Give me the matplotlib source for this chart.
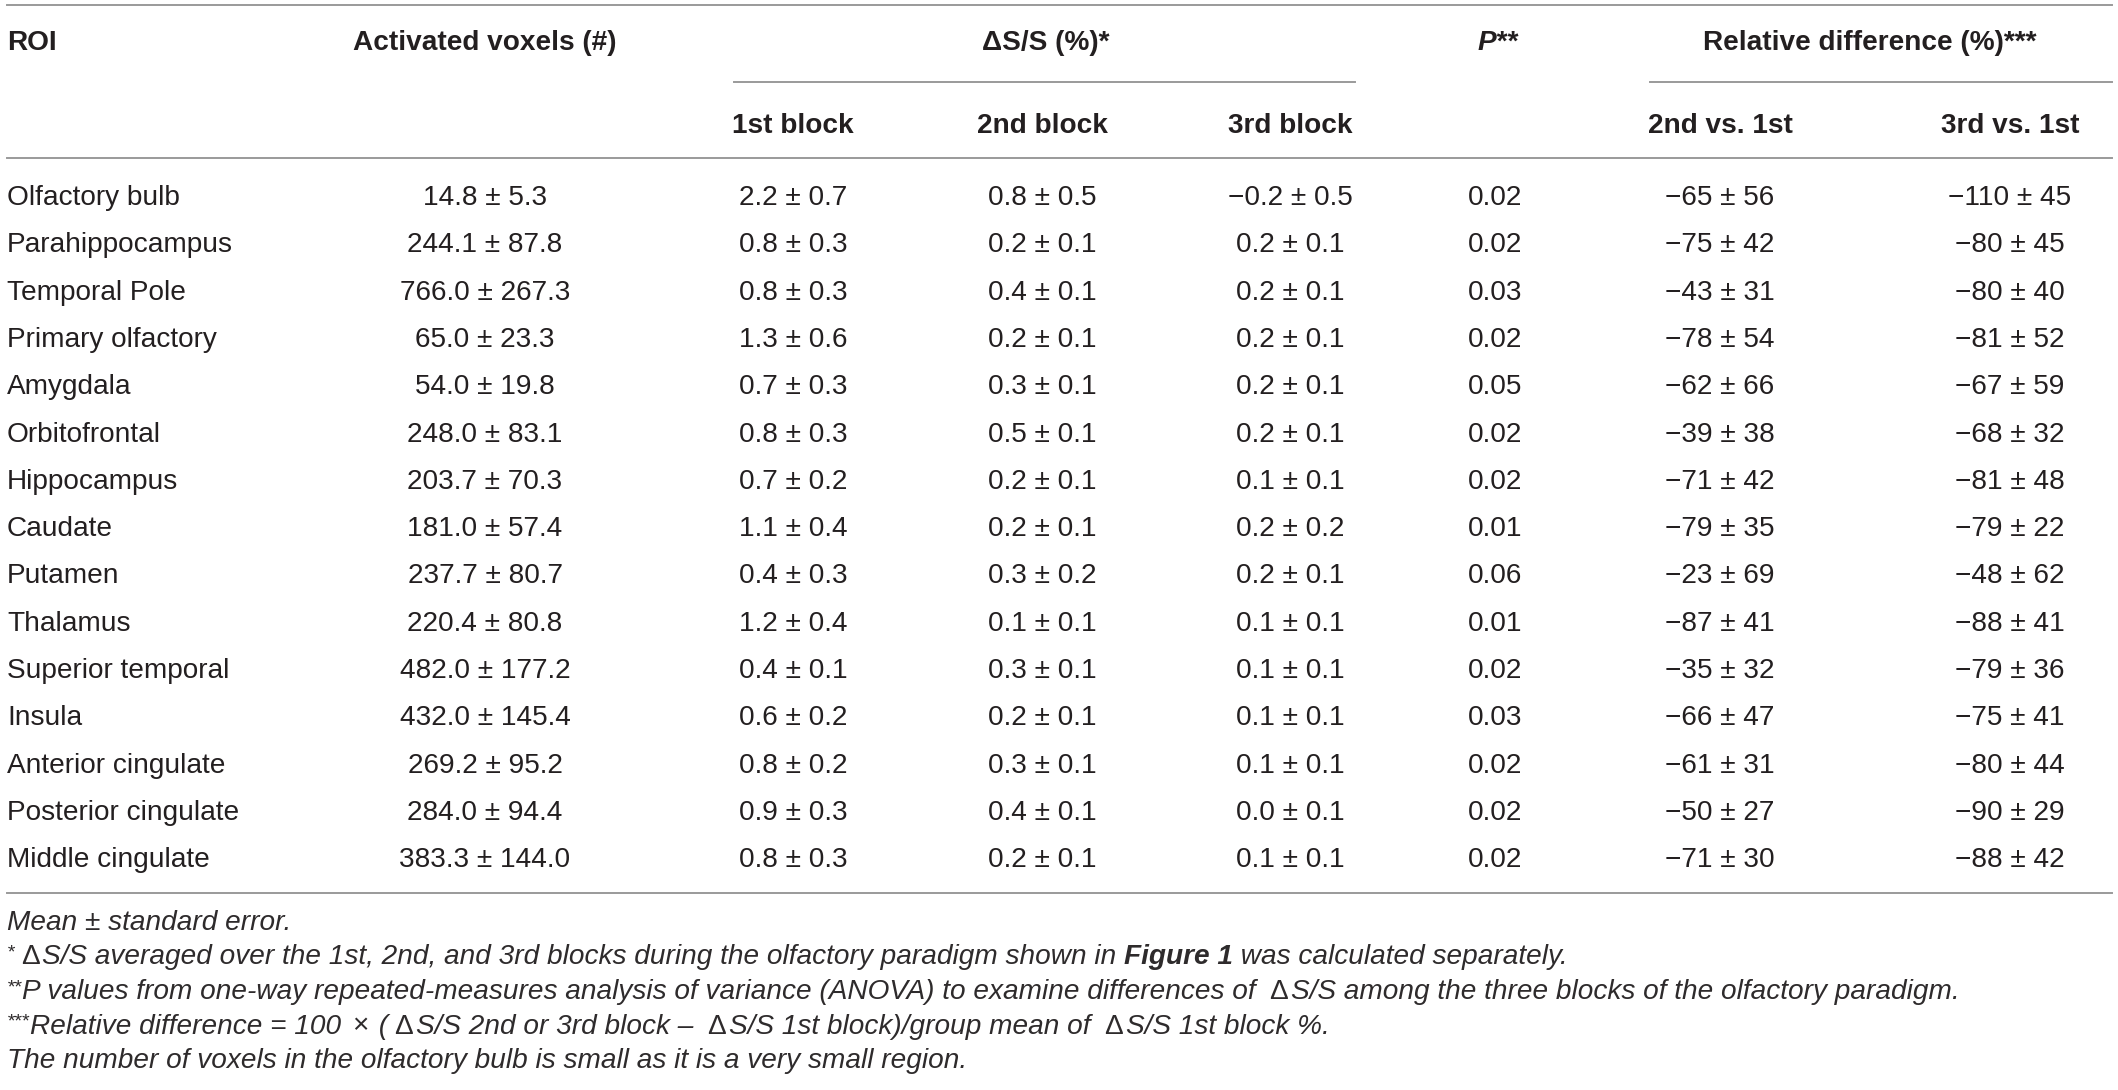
import matplotlib
matplotlib.use("Agg")
import matplotlib.pyplot as plt

plt.rcParams['font.family'] = ['Liberation Sans', 'DejaVu Sans']

# ---------------- data ----------------
rois = ["Olfactory bulb", "Parahippocampus", "Temporal Pole", "Primary olfactory",
        "Amygdala", "Orbitofrontal", "Hippocampus", "Caudate", "Putamen", "Thalamus",
        "Superior temporal", "Insula", "Anterior cingulate", "Posterior cingulate",
        "Middle cingulate"]
voxels_mean = [14.8, 244.1, 766.0, 65.0, 54.0, 248.0, 203.7, 181.0, 237.7, 220.4,
               482.0, 432.0, 269.2, 284.0, 383.3]
voxels_se = [5.3, 87.8, 267.3, 23.3, 19.8, 83.1, 70.3, 57.4, 80.7, 80.8,
             177.2, 145.4, 95.2, 94.4, 144.0]
block1_mean = [2.2, 0.8, 0.8, 1.3, 0.7, 0.8, 0.7, 1.1, 0.4, 1.2, 0.4, 0.6, 0.8, 0.9, 0.8]
block1_se = [0.7, 0.3, 0.3, 0.6, 0.3, 0.3, 0.2, 0.4, 0.3, 0.4, 0.1, 0.2, 0.2, 0.3, 0.3]
block2_mean = [0.8, 0.2, 0.4, 0.2, 0.3, 0.5, 0.2, 0.2, 0.3, 0.1, 0.3, 0.2, 0.3, 0.4, 0.2]
block2_se = [0.5, 0.1, 0.1, 0.1, 0.1, 0.1, 0.1, 0.1, 0.2, 0.1, 0.1, 0.1, 0.1, 0.1, 0.1]
block3_mean = [-0.2, 0.2, 0.2, 0.2, 0.2, 0.2, 0.1, 0.2, 0.2, 0.1, 0.1, 0.1, 0.1, 0.0, 0.1]
block3_se = [0.5, 0.1, 0.1, 0.1, 0.1, 0.1, 0.1, 0.2, 0.1, 0.1, 0.1, 0.1, 0.1, 0.1, 0.1]
p_values = [0.02, 0.02, 0.03, 0.02, 0.05, 0.02, 0.02, 0.01, 0.06, 0.01,
            0.02, 0.03, 0.02, 0.02, 0.02]
rel2_mean = [-65, -75, -43, -78, -62, -39, -71, -79, -23, -87, -35, -66, -61, -50, -71]
rel2_se = [56, 42, 31, 54, 66, 38, 42, 35, 69, 41, 32, 47, 31, 27, 30]
rel3_mean = [-110, -80, -80, -81, -67, -68, -81, -79, -48, -88, -79, -75, -80, -90, -88]
rel3_se = [45, 45, 40, 52, 59, 32, 48, 22, 62, 41, 36, 41, 44, 29, 42]

col_headers = ["1st block", "2nd block", "3rd block", "2nd vs. 1st", "3rd vs. 1st"]

# ---------------- layout ----------------
W, H = 2118, 1090
fig = plt.figure(figsize=(W / 100, H / 100), dpi=100)
ax = fig.add_axes([0, 0, 1, 1])
ax.set_xlim(0, W)
ax.set_ylim(H, 0)
ax.axis('off')

TXT = '#231f20'
FOOT = '#2e2b2c'
LINE = '#9a9a9a'
FS = 20.2
LW = 1.4

def minus(s):
    return s.replace('-', '\u2212')

def pm(m, s, fmt):
    return minus(fmt.format(m)) + ' \u00b1 ' + fmt.format(s)

# column centers
cx = [485, 793, 1042, 1290, 1495, 1720, 2010]
x_left = 7
x_right = 2112

# rules
ax.plot([x_left, x_right], [5, 5], color=LINE, lw=LW)
ax.plot([734, 1355], [82, 82], color=LINE, lw=LW)
ax.plot([1650, x_right], [82, 82], color=LINE, lw=LW)
ax.plot([x_left, x_right], [158, 158], color=LINE, lw=LW)
ax.plot([x_left, x_right], [893, 893], color=LINE, lw=LW)

# headers
hb = 50
ax.text(x_left, hb, "ROI", fontsize=FS, fontweight='bold', color=TXT, va='baseline', ha='left')
ax.text(cx[0], hb, "Activated voxels (#)", fontsize=FS, fontweight='bold', color=TXT,
        va='baseline', ha='center')
ax.text(1046, hb, "\u0394S/S (%)*", fontsize=FS, fontweight='bold', color=TXT,
        va='baseline', ha='center')
ax.text(1498, hb, "P**", fontsize=FS, fontweight='bold', fontstyle='italic', color=TXT,
        va='baseline', ha='center')
ax.text(1870, hb, "Relative difference (%)***", fontsize=FS, fontweight='bold', color=TXT,
        va='baseline', ha='center')
sb = 133
for x, h in zip([cx[1], cx[2], cx[3], cx[5], cx[6]], col_headers):
    ax.text(x, sb, h, fontsize=FS, fontweight='bold', color=TXT, va='baseline', ha='center')

# body rows
row0 = 205
dy = 47.3
for i, name in enumerate(rois):
    y = row0 + i * dy
    ax.text(x_left, y, name, fontsize=FS, color=TXT, va='baseline', ha='left')
    cells = [pm(voxels_mean[i], voxels_se[i], '{:.1f}'),
             pm(block1_mean[i], block1_se[i], '{:.1f}'),
             pm(block2_mean[i], block2_se[i], '{:.1f}'),
             pm(block3_mean[i], block3_se[i], '{:.1f}'),
             '{:.2f}'.format(p_values[i]),
             pm(rel2_mean[i], rel2_se[i], '{:d}'),
             pm(rel3_mean[i], rel3_se[i], '{:d}')]
    for x, c in zip(cx, cells):
        ax.text(x, y, c, fontsize=FS, color=TXT, va='baseline', ha='center')

# footnotes
fig.canvas.draw()
renderer = fig.canvas.get_renderer()
inv = ax.transData.inverted()

def expand(parts):
    """Split Delta signs out so they are drawn upright with a little room."""
    out = []
    for txt, kw in parts:
        if '\u0394' not in txt:
            out.append((txt, kw))
            continue
        segs = txt.split('\u0394')
        for j, seg in enumerate(segs):
            if seg:
                out.append((seg, kw))
            if j < len(segs) - 1:
                out.append(('\u0394', dict(kw, fontstyle='normal', pre=6, post=3)))
    return out

def pieces(x, y, parts):
    for txt, kw in expand(parts):
        style = dict(fontsize=FS, color=FOOT, fontstyle='italic', va='baseline', ha='left')
        kw = dict(kw)
        lift = kw.pop('lift', 0)
        pre = kw.pop('pre', 0)
        post = kw.pop('post', 0)
        style.update(kw)
        t = ax.text(x + pre, y - lift, txt, **style)
        bb = t.get_window_extent(renderer)
        x = inv.transform((bb.x1, bb.y0))[0] + post

SUP = dict(fontsize=14, lift=7)
fb = [930, 964.5, 999, 1033.5, 1068]
pieces(x_left, fb[0], [("Mean \u00b1 standard error.", {})])
pieces(x_left, fb[1], [("*", dict(SUP)),
                       ("\u0394S/S averaged over the 1st, 2nd, and 3rd blocks during the olfactory paradigm shown in ", {}),
                       ("Figure 1", dict(fontweight='bold')),
                       (" was calculated separately.", {})])
pieces(x_left, fb[2], [("**", SUP),
                       ("P values from one-way repeated-measures analysis of variance (ANOVA) to examine differences of \u0394S/S among the three blocks of the olfactory paradigm.", {})])
pieces(x_left, fb[3], [("***", SUP),
                       ("Relative difference = 100 ", {}),
                       ("\u00d7", dict(fontstyle='normal', pre=3, post=3)),
                       (" (\u0394S/S 2nd or 3rd block \u2013 \u0394S/S 1st block)/group mean of \u0394S/S 1st block %.", {})])
pieces(x_left, fb[4], [("The number of voxels in the olfactory bulb is small as it is a very small region.", {})])

fig.savefig('out.png', dpi=100)
